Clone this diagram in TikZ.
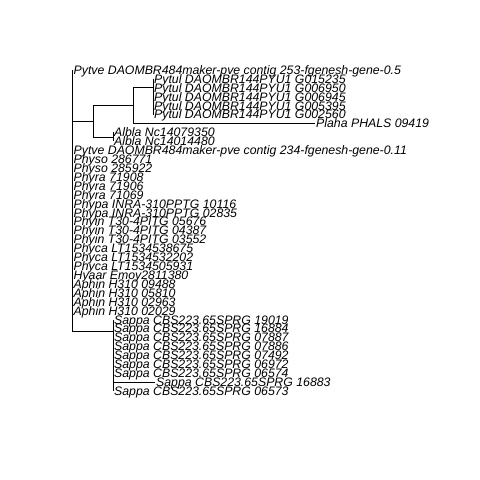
\documentclass[tikz,border=0pt]{standalone}
\usepackage{fontspec}
\setmainfont{Liberation Sans}
\begin{document}
\begin{tikzpicture}[x=1pt,y=-1pt,
  edge/.style={draw=black,line width=0.8pt},
  tiplab/.style={anchor=base west,inner sep=0pt,outer sep=0pt,yshift=-4.4pt,xshift=1.2pt,
    font=\fontsize{12.3}{12.3}\selectfont\itshape}]
\useasboundingbox (0,0) rectangle (480,480);
% internal nodes
\coordinate (root) at (72.5,200);
\coordinate (A) at (93,121.1);
\coordinate (B) at (133,105.4);
\coordinate (D) at (153,87.3);
\coordinate (C) at (113,136.9);
\coordinate (S) at (113,331);
% tips
\coordinate (t1) at (72.5,70.0);
\coordinate (t2) at (153,78.92);
\coordinate (t3) at (153,87.83);
\coordinate (t4) at (153,96.75);
\coordinate (t5) at (153,105.67);
\coordinate (t6) at (153,114.58);
\coordinate (t7) at (315,123.50);
\coordinate (t8) at (113,132.42);
\coordinate (t9) at (113,141.33);
\coordinate (t10) at (72.5,150.25);
\coordinate (t11) at (72.5,159.17);
\coordinate (t12) at (72.5,168.08);
\coordinate (t13) at (72.5,177.00);
\coordinate (t14) at (72.5,185.92);
\coordinate (t15) at (72.5,194.83);
\coordinate (t16) at (72.5,203.75);
\coordinate (t17) at (72.5,212.67);
\coordinate (t18) at (72.5,221.58);
\coordinate (t19) at (72.5,230.50);
\coordinate (t20) at (72.5,239.42);
\coordinate (t21) at (72.5,248.33);
\coordinate (t22) at (72.5,257.25);
\coordinate (t23) at (72.5,266.17);
\coordinate (t24) at (72.5,275.08);
\coordinate (t25) at (72.5,284.00);
\coordinate (t26) at (72.5,292.92);
\coordinate (t27) at (72.5,301.83);
\coordinate (t28) at (72.5,310.75);
\coordinate (t29) at (113,319.67);
\coordinate (t30) at (113,328.58);
\coordinate (t31) at (113,337.50);
\coordinate (t32) at (113,346.42);
\coordinate (t33) at (113,355.33);
\coordinate (t34) at (113,364.25);
\coordinate (t35) at (113,373.17);
\coordinate (t36) at (155,382.08);
\coordinate (t37) at (113,391.00);
% edges
\foreach \c in {t1,A,S,t10,t11,t12,t13,t14,t15,t16,t17,t18,t19,t20,t21,t22,t23,t24,t25,t26,t27,t28}
  \draw[edge] (root) |- (\c);
\foreach \c in {B,C} \draw[edge] (A) |- (\c);
\foreach \c in {D,t7} \draw[edge] (B) |- (\c);
\foreach \c in {t2,t3,t4,t5,t6} \draw[edge] (D) |- (\c);
\foreach \c in {t8,t9} \draw[edge] (C) |- (\c);
\foreach \c in {t29,t30,t31,t32,t33,t34,t35,t36,t37} \draw[edge] (S) |- (\c);
% labels
\node[tiplab] (n1) at (t1) {Pytve DAOMBR484maker-pve contig 253-fgenesh-gene-0.5};
\node[tiplab] (n2) at (t2) {Pytul DAOMBR144PYU1 G015235};
\node[tiplab] (n3) at (t3) {Pytul DAOMBR144PYU1 G006950};
\node[tiplab] (n4) at (t4) {Pytul DAOMBR144PYU1 G006945};
\node[tiplab] (n5) at (t5) {Pytul DAOMBR144PYU1 G005395};
\node[tiplab] (n6) at (t6) {Pytul DAOMBR144PYU1 G002560};
\node[tiplab] (n7) at (t7) {Plaha PHALS 09419};
\node[tiplab] (n8) at (t8) {Albla Nc14079350};
\node[tiplab] (n9) at (t9) {Albla Nc14014480};
\node[tiplab] (n10) at (t10) {Pytve DAOMBR484maker-pve contig 234-fgenesh-gene-0.11};
\node[tiplab] (n11) at (t11) {Physo 286771};
\node[tiplab] (n12) at (t12) {Physo 285922};
\node[tiplab] (n13) at (t13) {Phyra 71908};
\node[tiplab] (n14) at (t14) {Phyra 71906};
\node[tiplab] (n15) at (t15) {Phyra 71069};
\node[tiplab] (n16) at (t16) {Phypa INRA-310PPTG 10116};
\node[tiplab] (n17) at (t17) {Phypa INRA-310PPTG 02835};
\node[tiplab] (n18) at (t18) {Phyin T30-4PITG 05676};
\node[tiplab] (n19) at (t19) {Phyin T30-4PITG 04387};
\node[tiplab] (n20) at (t20) {Phyin T30-4PITG 03552};
\node[tiplab] (n21) at (t21) {Phyca LT1534538675};
\node[tiplab] (n22) at (t22) {Phyca LT1534532202};
\node[tiplab] (n23) at (t23) {Phyca LT1534505931};
\node[tiplab] (n24) at (t24) {Hyaar Emoy2811380};
\node[tiplab] (n25) at (t25) {Aphin H310 09488};
\node[tiplab] (n26) at (t26) {Aphin H310 05810};
\node[tiplab] (n27) at (t27) {Aphin H310 02963};
\node[tiplab] (n28) at (t28) {Aphin H310 02029};
\node[tiplab] (n29) at (t29) {Sappa CBS223.65SPRG 19019};
\node[tiplab] (n30) at (t30) {Sappa CBS223.65SPRG 16884};
\node[tiplab] (n31) at (t31) {Sappa CBS223.65SPRG 07887};
\node[tiplab] (n32) at (t32) {Sappa CBS223.65SPRG 07886};
\node[tiplab] (n33) at (t33) {Sappa CBS223.65SPRG 07492};
\node[tiplab] (n34) at (t34) {Sappa CBS223.65SPRG 06972};
\node[tiplab] (n35) at (t35) {Sappa CBS223.65SPRG 06574};
\node[tiplab] (n36) at (t36) {Sappa CBS223.65SPRG 16883};
\node[tiplab] (n37) at (t37) {Sappa CBS223.65SPRG 06573};
\end{tikzpicture}
\end{document}
